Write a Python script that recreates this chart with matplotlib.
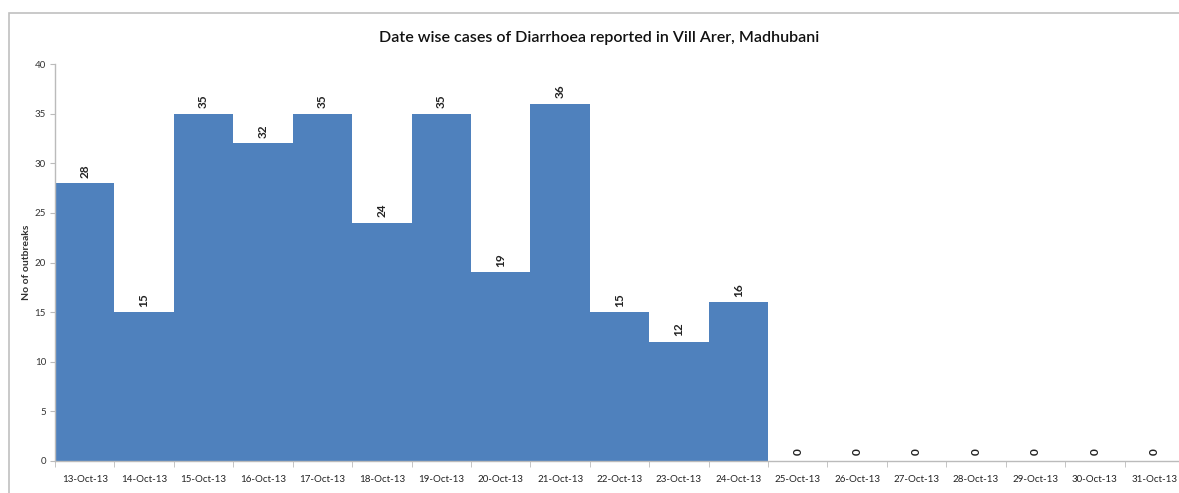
import matplotlib
matplotlib.use("Agg")
import matplotlib.pyplot as plt
import numpy as np
from matplotlib.patches import Rectangle

dates = ["13-Oct-13", "14-Oct-13", "15-Oct-13", "16-Oct-13", "17-Oct-13", "18-Oct-13",
         "19-Oct-13", "20-Oct-13", "21-Oct-13", "22-Oct-13", "23-Oct-13", "24-Oct-13",
         "25-Oct-13", "26-Oct-13", "27-Oct-13", "28-Oct-13", "29-Oct-13", "30-Oct-13",
         "31-Oct-13"]
cases = [28, 15, 35, 32, 35, 24, 35, 19, 36, 15, 12, 16, 0, 0, 0, 0, 0, 0, 0]
yticks = [0, 5, 10, 15, 20, 25, 30, 35, 40]

plt.rcParams['font.family'] = ['Lato', 'DejaVu Sans']

fig = plt.figure(figsize=(11.79, 4.93), dpi=100)
fig.patch.set_facecolor('white')

# outer chart border
fig.patches.append(Rectangle((9/1179, -0.02), 1.05, 1 - 13/493 + 0.02,
                             transform=fig.transFigure, fill=False,
                             edgecolor='#c0c0c0', linewidth=1.2, zorder=0))

ax = fig.add_axes([55/1179, 1 - 461/493, 1129/1179, (461 - 64)/493])
x = np.arange(len(dates))
ax.bar(x, cases, width=1.0, color='#4F81BD', edgecolor='none', align='center')

for xi, v in zip(x, cases):
    ax.annotate(str(v), (xi, v), xytext=(0, 4), textcoords='offset points',
                rotation=90, ha='center', va='bottom', fontsize=8.5,
                fontweight='bold', color='#222222')

ax.set_xlim(-0.5, len(dates) - 0.5)
ax.set_ylim(0, 40)
ax.set_yticks(yticks)
ax.set_yticklabels([str(t) for t in yticks], fontsize=7, color='#333333')
ax.set_xticks(x)
ax.set_xticklabels(dates, fontsize=7, color='#222222')
ax.set_xticks(np.arange(-0.5, len(dates), 1.0), minor=True)
ax.tick_params(axis='x', which='major', length=0, pad=10)
ax.tick_params(axis='x', which='minor', length=4, color='#bbbbbb', direction='out')
ax.tick_params(axis='y', length=3.5, color='#bbbbbb', direction='out', pad=3)

for s in ['top', 'right']:
    ax.spines[s].set_visible(False)
for s in ['left', 'bottom']:
    ax.spines[s].set_color('#bbbbbb')
    ax.spines[s].set_linewidth(1.0)

fig.text(27/1179, 1 - 262/493, 'No of outbreaks', rotation=90, ha='center', va='center',
         fontsize=7.5, fontweight='bold', color='#333333')

fig.text(0.508, 1 - 38/493, 'Date wise cases of Diarrhoea reported in Vill Arer, Madhubani',
         ha='center', va='center', fontsize=11.5, fontweight='semibold', color='#111111')

fig.savefig('out.png', dpi=100, facecolor='white')
